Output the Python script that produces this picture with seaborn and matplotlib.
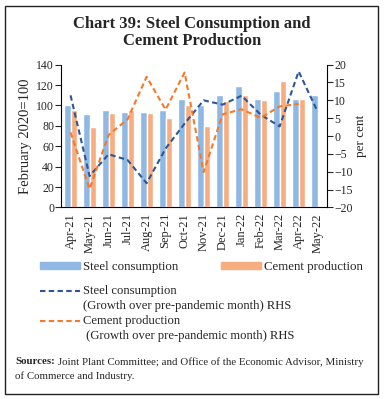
import numpy as np
import pandas as pd
import matplotlib
matplotlib.use("Agg")
import matplotlib.pyplot as plt
import seaborn as sns
from matplotlib.patches import Patch, Rectangle
from matplotlib.lines import Line2D

months = ["Apr-21", "May-21", "Jun-21", "Jul-21", "Aug-21", "Sep-21", "Oct-21",
          "Nov-21", "Dec-21", "Jan-22", "Feb-22", "Mar-22", "Apr-22", "May-22"]
steel_index = [100, 92, 95.4, 93.8, 93.5, 95.6, 106, 100.3, 109.8, 119.5, 106.2, 114, 106, 110.4]
cement_index = [95.4, 79, 92.2, 95.5, 92.8, 88, 100.3, 79.5, 104.6, 109.8, 104.9, 123.8, 106.8, np.nan]
steel_growth = [11.4, -11.2, -5.1, -6.7, -13.2, -3.5, 3.5, 10, 8.8, 11.3, 6.0, 2.7, 18.1, 6.8]
cement_growth = [1.0, -14.8, 0.3, 4.7, 16.6, 7.4, 17.8, -10.1, 6.1, 7.5, 5.1, 8.3, 9.0, np.nan]

c_steel_bar = "#8fb9e3"
c_cement_bar = "#f7ad7f"
c_steel_line = "#2f5597"
c_cement_line = "#f37a2c"

sns.set_style("white")
plt.rcParams["font.family"] = ["Liberation Serif", "DejaVu Serif"]

bars = pd.DataFrame({
    "month": months * 2,
    "value": steel_index + cement_index,
    "series": ["Steel consumption"] * len(months) + ["Cement production"] * len(months),
})

fig = plt.figure(figsize=(3.84, 3.99), dpi=100)
ax = fig.add_axes([0.159, 0.48, 0.693, 0.358])

sns.barplot(data=bars, x="month", y="value", hue="series", order=months,
            palette=[c_steel_bar, c_cement_bar], width=0.7, saturation=1,
            legend=False, ax=ax)
ax.set_ylim(0, 140)
ax.set_yticks(range(0, 141, 20))
ax.set_xlim(-0.5, len(months) - 0.5)
ax.set_xlabel("")
ax.set_ylabel("February 2020=100", fontsize=10.5, labelpad=3)
ax.set_xticks(range(len(months)))
ax.set_xticklabels(months, rotation=90, fontsize=9)
ax.set_xticks(np.arange(-0.5, len(months), 1), minor=True)
ax.tick_params(axis="x", which="major", length=0, pad=4)
ax.tick_params(axis="x", which="minor", length=4, width=0.8, direction="out")
ax.tick_params(axis="y", length=4, width=0.8, direction="out", labelsize=8.5, pad=1)
for s in ["top", "right"]:
    ax.spines[s].set_visible(False)
for s in ["left", "bottom"]:
    ax.spines[s].set_linewidth(0.8)
    ax.spines[s].set_color("black")

ax2 = ax.twinx()
xpos = np.arange(len(months))
sns.lineplot(x=xpos, y=steel_growth, ax=ax2, color=c_steel_line, lw=1.5)
sns.lineplot(x=xpos, y=cement_growth, ax=ax2, color=c_cement_line, lw=1.5)
for ln in ax2.lines:
    ln.set_dashes((2.6, 1.6))
ax2.set_ylim(-20, 20)
ax2.set_yticks(range(-20, 21, 5))
ax2.set_ylabel("per cent", fontsize=9.5, labelpad=2)
ax2.tick_params(axis="y", length=4, width=0.8, direction="out", labelsize=8.5, pad=1)
for s in ["top", "left", "bottom"]:
    ax2.spines[s].set_visible(False)
ax2.spines["right"].set_linewidth(0.8)
ax2.spines["right"].set_color("black")
ax2.set_xlim(-0.5, len(months) - 0.5)

fig.text(0.5, 0.918, "Chart 39: Steel Consumption and\nCement Production",
         ha="center", va="center", fontsize=12, fontweight="bold",
         linespacing=1.1)

# bar legend
bar_handles = [Patch(color=c_steel_bar), Patch(color=c_cement_bar)]
fig.legend(bar_handles, ["Steel consumption", "Cement production"],
           loc="center left", bbox_to_anchor=(0.103, 1 - 267 / 399), ncol=2,
           frameon=False, fontsize=9.3, handlelength=3.1, handleheight=0.55,
           handletextpad=0.25, columnspacing=3.3, borderpad=0, borderaxespad=0)

# line legend, drawn by hand so the key sits on the first text line
line_keys = [
    (c_steel_line, 291, "Steel consumption", "(Growth over pre-pandemic month) RHS"),
    (c_cement_line, 321, "Cement production", " (Growth over pre-pandemic month) RHS"),
]
for col, ypix, first, second in line_keys:
    yf = 1 - ypix / 399
    fig.add_artist(Line2D([40 / 384, 80 / 384], [yf, yf], transform=fig.transFigure,
                          color=col, lw=1.5, dashes=(2.6, 1.6)))
    fig.text(83 / 384, yf, first, fontsize=9.1, va="center")
    fig.text(83 / 384, yf - 14.5 / 399, second, fontsize=9.1, va="center")

src = fig.text(15 / 384, 1 - 362 / 399, "Sources:", fontsize=7.8, fontweight="bold", va="center")
fig.canvas.draw()
src_end = src.get_window_extent().x1
fig.text((src_end + 3) / 384, 1 - 362 / 399,
         "Joint Plant Committee; and Office of the Economic Advisor, Ministry",
         fontsize=7.8, va="center")
fig.text(15 / 384, 1 - 376 / 399, "of Commerce and Industry.", fontsize=7.8, va="center")

fig.patches.append(Rectangle((0.013, 0.012), 0.972, 0.974, transform=fig.transFigure,
                             fill=False, lw=1.0, edgecolor="#222222"))

fig.savefig("out.png", dpi=100)
